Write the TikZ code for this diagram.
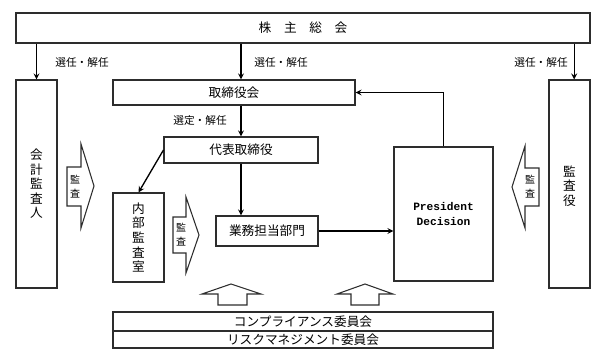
\documentclass[tikz,border=0pt]{standalone}
\usepackage{fontspec}
\usepackage{tikz}
\usetikzlibrary{shapes}
\setmainfont{Noto Sans CJK JP}
\newfontfamily\pdfont{Liberation Mono}
\definecolor{edge}{RGB}{45, 45, 45}

\begin{document}
\begin{tikzpicture}[
   x=0.75pt, y=-0.75pt,
   orgbox/.style={rectangle, draw=edge, line width=0.8, text=black, inner sep=0,
                  align=center, font=\fontsize{9.5}{10.9}\selectfont},
   vtext/.style={inner sep=0, align=center, font=\fontsize{9.5}{10.9}\selectfont},
   lbl/.style={inner sep=0, text=black, font=\fontsize{8}{9}\selectfont},
   audit/.style={inner sep=0, align=center, font=\fontsize{7.5}{10.5}\selectfont},
   blockarr/.style={draw=edge, line width=0.8, fill=white},
   arr/.style={->, >=stealth, color=black, line width=1}
  ]

  \useasboundingbox (0, 0) rectangle (610, 349);

  % Boxes
  \node (N1) at (303, 28) [orgbox, minimum width=430.5pt, minimum height=22.5pt] {株\quad 主\quad 総\quad 会};

  \node (N2) at (36.5, 184) [orgbox, minimum width=30.75pt, minimum height=156pt] {};
  \node (N3) at (569.5, 184) [orgbox, minimum width=30.75pt, minimum height=156pt] {};
  \node (V2) at (N2.center) [vtext] {会\\計\\監\\査\\人};
  \node (V3) at (569.5, 186) [vtext] {監\\査\\役};

  \node (N4) at (234, 92.5) [orgbox, minimum width=181.5pt, minimum height=18.75pt] {取締役会};
  \node (N5) at (241, 150) [orgbox, minimum width=115.5pt, minimum height=19.5pt] {代表取締役};

  \node (N6) at (138.5, 237.5) [orgbox, minimum width=38.25pt, minimum height=66.75pt] {};
  \node (V6) at (N6.center) [vtext] {内\\部\\監\\査\\室};

  \node (N7) at (267, 231) [orgbox, minimum width=76.5pt, minimum height=22.5pt] {業務担当部門};
  \node (N8) at (443.5, 214) [orgbox, minimum width=74.25pt, minimum height=100.5pt,
                              font=\pdfont\bfseries\fontsize{8.4}{11.3}\selectfont] {President\\Decision};

  \node (N9) at (303, 321.5) [orgbox, minimum width=285pt, minimum height=14.25pt] {コンプライアンス委員会};
  \node (N10) at (303, 339.5) [orgbox, minimum width=285pt, minimum height=12.75pt] {リスクマネジメント委員会};

  % Labels
  \node (L1) at (82, 62) [lbl] {選任・解任};
  \node (L2) at (281, 62) [lbl] {選任・解任};
  \node (L3) at (541, 62) [lbl] {選任・解任};
  \node (L4) at (200, 120) [lbl] {選定・解任};

  % Arrows
  \coordinate (T3) at ([xshift=3.5pt]N3.north);

  \foreach \B/\E in {N2.north |- N1.south/N2.north, T3 |- N1.south/T3,
                     N5.north |- N1.south/N5.north |- N4.north, N5.north |- N4.south/N5.north,
                     N5.south/N5.south |- N7.north, N5.west/N6.north,
                     N7.east/N7.east -| N8.west} {
    \draw[arr] (\B) -- (\E);
  }
  \draw[arr] (N8.north) |- (N4.east);

  % Audit arrows
  \draw[blockarr] (67, 167) -- (81, 167) -- (81, 144) -- (94, 186) -- (81, 228) -- (81, 206) -- (67, 206) -- cycle;
  \node (A1) at (75, 187) [audit] {監\\査};

  \draw[blockarr] (173, 217) -- (186, 217) -- (186, 197) -- (199, 235) -- (186, 273) -- (186, 253) -- (173, 253) -- cycle;
  \node (A2) at (181, 235) [audit] {監\\査};

  \draw[blockarr] (539, 168) -- (525, 168) -- (525, 146) -- (512, 187) -- (525, 228) -- (525, 206) -- (539, 206) -- cycle;
  \node (A3) at (530, 187) [audit] {監\\査};

  \draw[blockarr] (218, 305) -- (218, 294) -- (202, 294) -- (231, 284) -- (261, 294) -- (247, 294) -- (247, 305) -- cycle;
  \draw[blockarr] (351, 305) -- (351, 294) -- (337, 294) -- (365, 284) -- (393, 294) -- (379, 294) -- (379, 305) -- cycle;

\end{tikzpicture}
\end{document}
